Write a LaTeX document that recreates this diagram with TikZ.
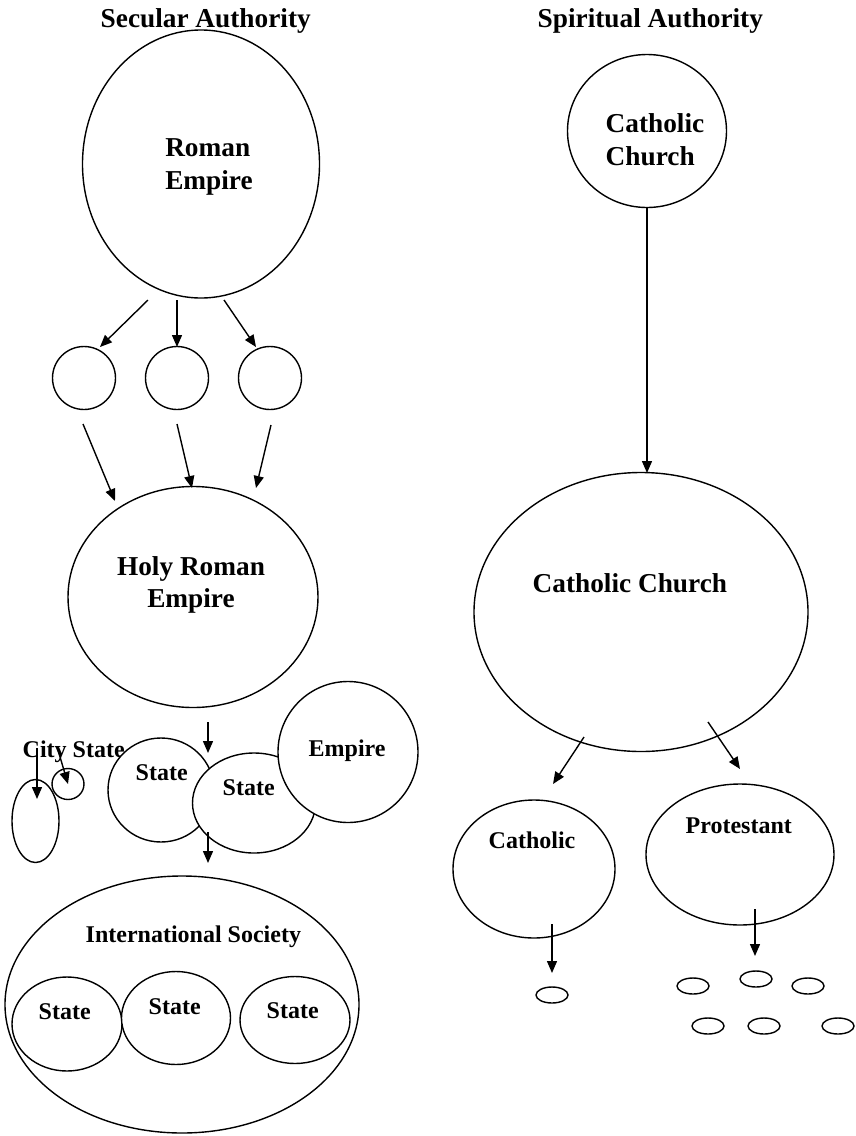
\documentclass[tikz,border=0pt]{standalone}
\usepackage{fontspec}
\setmainfont{Liberation Serif}
\usetikzlibrary{arrows.meta,shapes.geometric}
\begin{document}
\begin{tikzpicture}[x=1pt,y=-1pt,line width=1.4pt,
  oval/.style={draw,ellipse,inner sep=0pt,fill=white},
  arr/.style={-{Triangle[length=12pt,width=10pt]}},
  big/.style={font=\fontsize{27.3}{27.3}\selectfont\bfseries,inner sep=0pt},
  lbl/.style={font=\fontsize{24}{24}\selectfont\bfseries,inner sep=0pt,anchor=base west}]
\useasboundingbox (0,0) rectangle (855,1136);
\fill[white] (0,0) rectangle (855,1136);

% headings
\node[big,anchor=base west] (hsec) at (100,27) {Secular Authority};
\node[big,anchor=base west] (hspi) at (537,27) {Spiritual Authority};

% ---------------- secular side ----------------
\node[oval,minimum width=237pt,minimum height=268pt] (rome) at (201,164) {};
\node[big,align=left,font=\fontsize{27.3}{33}\selectfont\bfseries] (tRome) at (209,167.4) {Roman\\Empire};

\node[oval,minimum width=63pt,minimum height=63pt] (k1) at (84,378) {};
\node[oval,minimum width=63pt,minimum height=63pt] (k2) at (177,378) {};
\node[oval,minimum width=63pt,minimum height=63pt] (k3) at (270,378) {};

\node[oval,minimum width=250pt,minimum height=221pt] (hre) at (193,597) {};
\node[big,align=center,font=\fontsize{27.3}{32.5}\selectfont\bfseries] (tHre) at (191,585) {Holy Roman\\Empire};

% breakup into states
\node[oval,minimum width=32pt,minimum height=31pt] (city) at (68,784) {};
\node[oval,minimum width=47pt,minimum height=83pt] (tall) at (35.5,821) {};
\node[lbl] (tCity) at (22,757) {City State};

\node[oval,minimum width=106pt,minimum height=104pt] (st1) at (161,790) {};
\node[oval,minimum width=123pt,minimum height=100pt] (st2) at (254,803) {};
\node[oval,minimum width=140pt,minimum height=141pt] (emp) at (348,752) {};
\node[lbl] (tSt1) at (135,780) {State};
\node[lbl] (tSt2) at (222,795) {State};
\node[lbl] (tEmp) at (308,756) {Empire};

% international society
\node[oval,minimum width=354pt,minimum height=257pt] (intl) at (182,1004.5) {};
\node[lbl] (tIntl) at (85,942) {International Society};
\node[oval,minimum width=110pt,minimum height=94pt] (sA) at (67,1024) {};
\node[oval,minimum width=109pt,minimum height=93pt] (sB) at (176,1018) {};
\node[oval,minimum width=110pt,minimum height=87pt] (sC) at (295,1020) {};
\node[lbl] (tA) at (38,1019) {State};
\node[lbl] (tB) at (148,1014) {State};
\node[lbl] (tC) at (266,1018) {State};

% arrow end points
\coordinate (a1s) at (148,300); \coordinate (a1e) at (100,347);
\coordinate (a2s) at (177,300); \coordinate (a2e) at (177,347);
\coordinate (a3s) at (224,300); \coordinate (a3e) at (256,347);
\coordinate (b1s) at (83,424);  \coordinate (b1e) at (115,501);
\coordinate (b2s) at (177,424); \coordinate (b2e) at (192,488);
\coordinate (b3s) at (271,425); \coordinate (b3e) at (256,488);
\coordinate (c1s) at (208,722); \coordinate (c1e) at (208,753);
\coordinate (c2s) at (208,832); \coordinate (c2e) at (208,863);
\coordinate (d1s) at (37,748);  \coordinate (d1e) at (37,799);
\coordinate (d2s) at (58,750);  \coordinate (d2e) at (68,784);

\draw[arr] (a1s) -- (a1e);
\draw[arr] (a2s) -- (a2e);
\draw[arr] (a3s) -- (a3e);
\draw[arr] (b1s) -- (b1e);
\draw[arr] (b2s) -- (b2e);
\draw[arr] (b3s) -- (b3e);
\draw[arr] (c1s) -- (c1e);
\draw[arr] (c2s) -- (c2e);
\draw[arr] (d1s) -- (d1e);
\draw[arr] (d2s) -- (d2e);

% ---------------- spiritual side ----------------
\node[oval,minimum width=159pt,minimum height=153pt] (cc1) at (647,131) {};
\node[big,align=left,font=\fontsize{27.3}{33}\selectfont\bfseries] (tCc1) at (655,139.7) {Catholic\\Church};

\node[oval,minimum width=334pt,minimum height=279pt] (cc2) at (641,612) {};
\node[big,anchor=base west] (tCc2) at (532,592) {Catholic Church};

\node[oval,minimum width=162pt,minimum height=138pt] (cath) at (534,869) {};
\node[lbl] (tCath) at (488,848) {Catholic};
\node[oval,minimum width=188pt,minimum height=141pt] (prot) at (740,854.5) {};
\node[lbl] (tProt) at (685,833) {Protestant};

\node[oval,minimum width=32pt,minimum height=16pt] (e0) at (552,995) {};
\node[oval,minimum width=32pt,minimum height=16pt] (e1) at (693,986) {};
\node[oval,minimum width=32pt,minimum height=16pt] (e2) at (756,979) {};
\node[oval,minimum width=32pt,minimum height=16pt] (e3) at (808,986) {};
\node[oval,minimum width=32pt,minimum height=16pt] (e4) at (708,1026) {};
\node[oval,minimum width=32pt,minimum height=16pt] (e5) at (764,1026) {};
\node[oval,minimum width=32pt,minimum height=16pt] (e6) at (838,1026) {};

\coordinate (f1s) at (647,208); \coordinate (f1e) at (647,473);
\coordinate (f2s) at (584,737); \coordinate (f2e) at (553,784);
\coordinate (f3s) at (708,722); \coordinate (f3e) at (740,769);
\coordinate (f4s) at (552,924); \coordinate (f4e) at (552,973);
\coordinate (f5s) at (755,909); \coordinate (f5e) at (755,956);

\draw[arr] (f1s) -- (f1e);
\draw[arr] (f2s) -- (f2e);
\draw[arr] (f3s) -- (f3e);
\draw[arr] (f4s) -- (f4e);
\draw[arr] (f5s) -- (f5e);
\end{tikzpicture}
\end{document}
